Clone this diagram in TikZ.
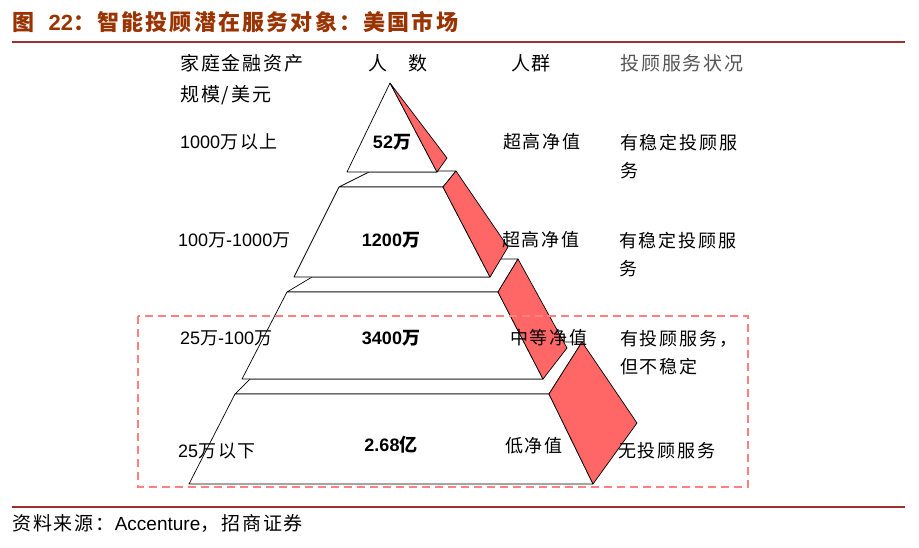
\documentclass[tikz,border=0pt]{standalone}
\usepackage{fontspec}
\setmainfont{Noto Sans CJK SC}
\newfontfamily\lat{Liberation Sans}
\newfontfamily\wide{Noto Sans CJK SC}[LetterSpace=10]
\usetikzlibrary{positioning}
\definecolor{titlered}{HTML}{993300}
\definecolor{rulered}{HTML}{9E3030}
\definecolor{sidered}{HTML}{FF6666}
\definecolor{boxred}{HTML}{FF8080}
\definecolor{muted}{HTML}{555555}
\tikzset{face/.style={draw=black, fill=white, line width=.7pt, line join=round}, side/.style={draw=black, fill=sidered, line width=.7pt, line join=round}, hdr/.style={font=\wide\fontsize{19}{20}\selectfont, inner sep=0pt}, lab/.style={font=\wide\fontsize{18}{28}\selectfont, inner sep=0pt, anchor=west}, num/.style={font=\fontsize{18}{20}\selectfont\bfseries, inner sep=0pt}, stat/.style={font=\wide\fontsize{18}{28}\selectfont, inner sep=0pt, anchor=north west, align=left}}

\begin{document}
\begin{tikzpicture}[x=1pt,y=-1pt]
\useasboundingbox (0,0) rectangle (919,547);
% title and rules
\node[anchor=west, inner sep=0pt, text=titlered, font=\wide\fontsize{22}{24}\selectfont\bfseries] (title) at (12,22) {图\ \ {\lat 22}：智能投顾潜在服务对象：美国市场};
\draw[rulered, line width=1.6pt] (12,42) -- (905,42);
\draw[rulered, line width=1.6pt] (12,507) -- (905,507);
\node[anchor=west, inner sep=0pt, font=\wide\fontsize{19}{20}\selectfont] (src) at (12,523) {资料来源：{\lat Accenture}，招商证券};
% layer top faces
\draw[face] (250,379) -- (543,379) -- (564,342) -- (582,342) -- (549,394) -- (235,394) -- cycle;
\draw[face] (312,277) -- (490,277) -- (500,259) -- (518,259) -- (498,292) -- (287,292) -- cycle;
\draw[face] (369,172) -- (437,172) -- (438,171) -- (456,171) -- (443,187) -- (339,187) -- cycle;
% layers
\draw[face] (235,394) -- (549,394) -- (593,484) -- (189,484) -- cycle;
\draw[side] (549,394) -- (582,342) -- (637,423) -- (593,484) -- cycle;
\draw[face] (287,292) -- (498,292) -- (543,379) -- (242,379) -- cycle;
\draw[side] (498,292) -- (518,259) -- (567,348) -- (543,379) -- cycle;
\draw[face] (339,187) -- (443,187) -- (490,277) -- (294,277) -- cycle;
\draw[side] (443,187) -- (456,171) -- (508,247) -- (490,277) -- cycle;
\draw[face] (390,83) -- (437,172) -- (347,172) -- cycle;
\draw[side] (390,83) -- (447,158) -- (437,172) -- cycle;
% headers
\node[hdr, anchor=west] (hasset) at (180,63) {家庭金融资产};
\node[hdr, anchor=west] (hunit) at (180,95) {规模/美元};
\node[hdr] (hcount) at (398,63) {人\hspace{1.1em}数};
\node[hdr] (hgroup) at (531,63) {人群};
\node[hdr, text=muted] (hstat) at (682,63) {投顾服务状况};
% row 1
\node[lab] (r1a) at (180,142) {{\lat 1000}万以上};
\node[num] (r1n) at (392,142) {{\lat 52}万};
\node[lab] (r1g) at (503,142) {超高净值};
\node[stat] (r1s) at (620,134) {有稳定投顾服\\务};
% row 2
\node[lab] (r2a) at (178,240) {{\lat 100}万{\lat -1000}万};
\node[num] (r2n) at (391,240) {{\lat 1200}万};
\node[lab] (r2g) at (502,240) {超高净值};
\node[stat] (r2s) at (619,232) {有稳定投顾服\\务};
% row 3
\node[lab] (r3a) at (180,338) {{\lat 25}万{\lat -100}万};
\node[num] (r3n) at (391,338) {{\lat 3400}万};
\node[lab] (r3g) at (510,338) {中等净值};
\node[stat] (r3s) at (620,330) {有投顾服务，\\但不稳定};
% row 4
\node[lab] (r4a) at (178,451) {{\lat 25}万以下};
\node[num] (r4n) at (391,445) {{\lat 2.68}亿};
\node[lab] (r4g) at (505,446) {低净值};
\node[lab] (r4s) at (618,451) {无投顾服务};
% highlight box
\draw[boxred, line width=1.4pt, dash pattern=on 8pt off 5pt] (138,316) rectangle (748,487);
\end{tikzpicture}
\end{document}
